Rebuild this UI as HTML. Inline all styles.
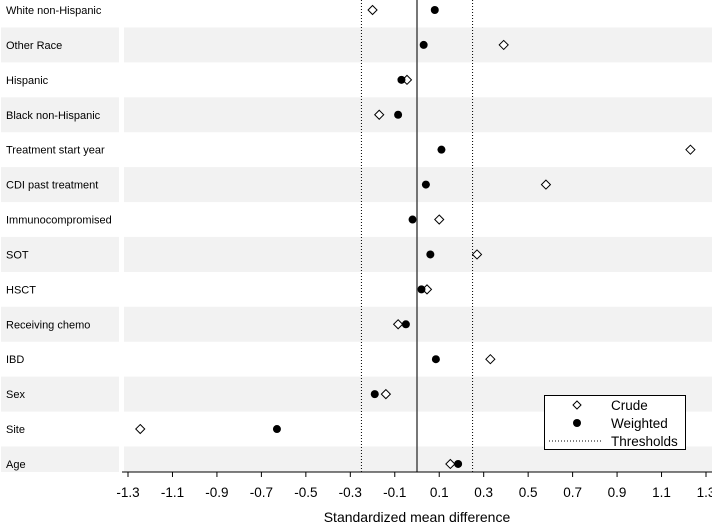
<!DOCTYPE html>
<html><head><meta charset="utf-8"><style>
body{margin:0;background:#fff;width:712px;height:525px;overflow:hidden}
svg{display:block;font-family:"Liberation Sans",Arial,sans-serif}
</style></head><body>
<svg id="c" width="712" height="525"></svg>
<script>
const categories=["White non-Hispanic","Other Race","Hispanic","Black non-Hispanic","Treatment start year","CDI past treatment","Immunocompromised","SOT","HSCT","Receiving chemo","IBD","Sex","Site","Age"];
const crude=[-0.20,0.39,-0.045,-0.17,1.23,0.58,0.10,0.27,0.045,-0.085,0.33,-0.14,-1.245,0.15];
const weighted=[0.08,0.03,-0.07,-0.085,0.11,0.04,-0.02,0.06,0.02,-0.05,0.085,-0.19,-0.63,0.185];
const ticks=[-1.3,-1.1,-0.9,-0.7,-0.5,-0.3,-0.1,0.1,0.3,0.5,0.7,0.9,1.1,1.3];
const thresholds=[-0.25,0.25];
const NS="http://www.w3.org/2000/svg",svg=document.getElementById('c');
const X=v=>417+v*222.3, Y=i=>10+i*34.92;
function el(t,a,p){const e=document.createElementNS(NS,t);for(const k in a)e.setAttribute(k,a[k]);(p||svg).appendChild(e);return e;}
categories.forEach((c,i)=>{
  if(i%2===1){
    const y0=Y(i)-17.5,h=Math.min(35,472-y0);
    const b1=el('rect',{x:1,y:y0,width:118,height:h,fill:'#f2f2f2'});
    
    
    const b2=el('rect',{x:124,y:y0,width:588,height:h,fill:'#f2f2f2'});
    
    
  }
  const t=el('text',{x:6,y:Y(i)+4,'font-size':11,fill:'#000'});t.textContent=c;
  
  
});
thresholds.forEach(v=>{const l=el('line',{x1:X(v),x2:X(v),y1:0,y2:472,stroke:'#000','stroke-width':1,'stroke-dasharray':'1,2'});

});
const z=el('line',{x1:417,x2:417,y1:0,y2:472,stroke:'#555','stroke-width':1.6});


crude.forEach((v,i)=>{const x=X(v),y=Y(i);
 const d=el('polygon',{points:`${x},${y-4.5} ${x+4.5},${y} ${x},${y+4.5} ${x-4.5},${y}`,fill:'#fff',stroke:'#000','stroke-width':1});
 
 });
weighted.forEach((v,i)=>{const c=el('circle',{cx:X(v),cy:Y(i),r:4,fill:'#000'});
 
 });
const ax=el('line',{x1:122,x2:712,y1:472,y2:472,stroke:'#000'});


ticks.forEach(v=>{el('line',{x1:X(v),x2:X(v),y1:472,y2:477,stroke:'#000'});
 const t=el('text',{x:X(v),y:497,'font-size':13.5,'text-anchor':'middle'});t.textContent=v.toFixed(1);
 
 });
const tt=el('text',{x:417,y:522,'font-size':14,'text-anchor':'middle'});tt.textContent='Standardized mean difference';


const g=el('g',{});


el('rect',{x:544.5,y:395.5,width:141,height:54,fill:'#fff',stroke:'#000'},g);
el('polygon',{points:'577,401 581,405 577,409 573,405',fill:'#fff',stroke:'#000'},g);
el('circle',{cx:577,cy:423,r:4,fill:'#000'},g);
el('line',{x1:549,x2:602,y1:441,y2:441,stroke:'#000','stroke-dasharray':'1,2'},g);
[['Crude',410],['Weighted',428],['Thresholds',446]].forEach(([s,y])=>{const t=el('text',{x:611,y:y,'font-size':13.5},g);t.textContent=s;});
</script>
</body></html>
